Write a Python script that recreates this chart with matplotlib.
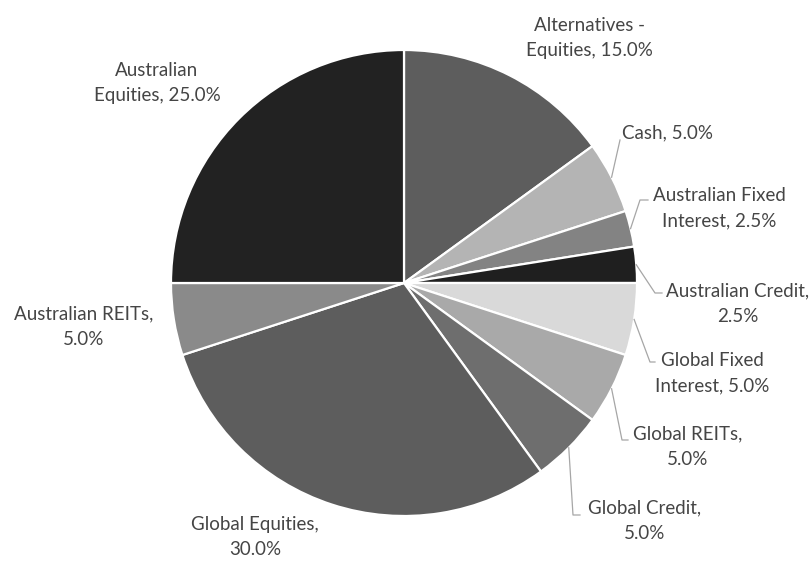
import numpy as np
import matplotlib
matplotlib.use("Agg")
from matplotlib import pyplot as plt

# data
labels = ["Alternatives -\nEquities", "Cash", "Australian Fixed\nInterest", "Australian Credit,\n",
          "Global Fixed\nInterest", "Global REITs,\n", "Global Credit,\n", "Global Equities,\n",
          "Australian REITs,\n", "Australian\nEquities"]
shares = [15.0, 5.0, 2.5, 2.5, 5.0, 5.0, 5.0, 30.0, 5.0, 25.0]
colors = ["#5d5d5d", "#b4b4b4", "#838383", "#1f1f1f", "#d9d9d9",
          "#a9a9a9", "#6e6e6e", "#5d5d5d", "#8a8a8a", "#222222"]

# layout (pixels in the 811x562 picture)
W, H = 811, 562
CX, CY, R = 404, 283, 233
label_xy = [(589, 38), (622, 133), (719, 208), (738, 304), (712, 373),
            (688, 447), (645, 521), (255, 537), (84, 327), (157, 83)]
label_ha = ["center", "left", "center", "center", "center",
            "center", "center", "center", "center", "center"]
# elbow points of the leader lines (None = no leader)
elbows = [None, [(620, 140)], [(640, 200), (648, 200)], [(655, 293), (662, 293)],
          [(650, 362), (655, 362)], [(622, 440), (628, 440)], [(573, 515), (580, 515)],
          None, None, None]


def px(x, y):
    return (x - CX) / R, (CY - y) / R


plt.rcParams["font.family"] = ["Lato", "DejaVu Sans"]

fig = plt.figure(figsize=(W / 100, H / 100), dpi=100)
ax = fig.add_axes([0, 0, 1, 1])

wedges, _ = ax.pie(shares, colors=colors, startangle=90, counterclock=False, radius=1,
                   wedgeprops=dict(edgecolor="white", linewidth=1.6))

for i, w in enumerate(wedges):
    name = labels[i]
    if name.endswith("\n"):
        txt = name + "%.1f%%" % shares[i]
    else:
        txt = name + ", %.1f%%" % shares[i]
    x, y = px(*label_xy[i])
    ax.text(x, y, txt, ha=label_ha[i], va="center", fontsize=13.5, color="#454545",
            linespacing=1.6)
    if elbows[i] is not None:
        mid = np.deg2rad((w.theta1 + w.theta2) / 2)
        xs = [np.cos(mid)]
        ys = [np.sin(mid)]
        for ex, ey in elbows[i]:
            dx, dy = px(ex, ey)
            xs.append(dx)
            ys.append(dy)
        ax.plot(xs, ys, color="#a6a6a6", lw=0.9)

ax.set_xlim(-CX / R, (W - CX) / R)
ax.set_ylim(-(H - CY) / R, CY / R)
ax.set_aspect("equal")
ax.axis("off")

fig.savefig("out.png", dpi=100, facecolor="white")
